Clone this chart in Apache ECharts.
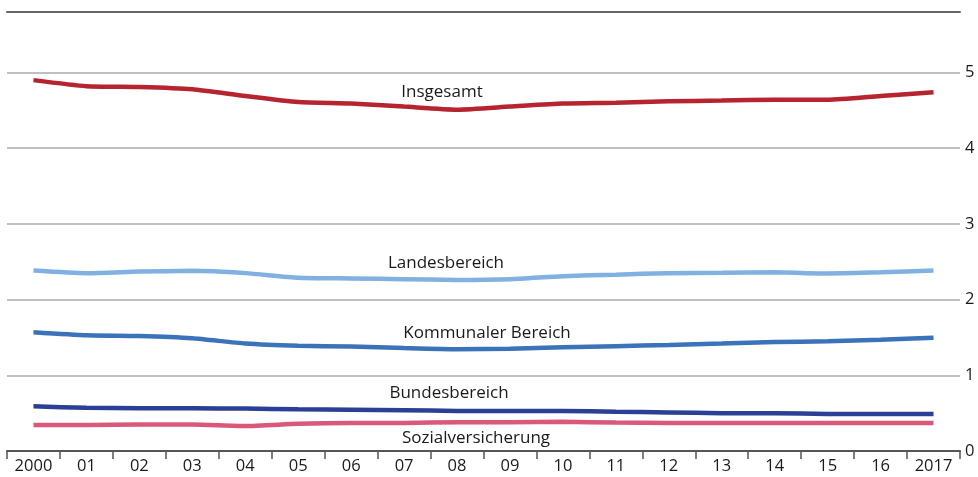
<!DOCTYPE html>
<html>
<head>
<meta charset="utf-8">
<script src="https://cdn.jsdelivr.net/npm/echarts@6/dist/echarts.min.js"></script>
<style>
html,body{margin:0;padding:0;background:#fff;}
#c{width:978px;height:477px;}
</style>
</head>
<body>
<div id="c"></div>
<script>
const categories = ['2000','01','02','03','04','05','06','07','08','09','10','11','12','13','14','15','16','2017'];
const insgesamt = [4.90,4.82,4.81,4.78,4.69,4.61,4.59,4.55,4.51,4.55,4.59,4.60,4.62,4.63,4.64,4.64,4.69,4.74];
const landesbereich = [2.385,2.35,2.37,2.38,2.35,2.29,2.28,2.27,2.26,2.27,2.31,2.33,2.35,2.355,2.36,2.345,2.36,2.385];
const kommunal = [1.57,1.53,1.52,1.49,1.42,1.39,1.38,1.36,1.345,1.35,1.37,1.385,1.40,1.42,1.44,1.45,1.47,1.495];
const bundesbereich = [0.59,0.57,0.565,0.565,0.56,0.55,0.545,0.54,0.53,0.53,0.53,0.52,0.51,0.50,0.50,0.49,0.49,0.49];
const sozialversicherung = [0.345,0.345,0.35,0.35,0.33,0.36,0.37,0.37,0.38,0.38,0.385,0.375,0.37,0.37,0.37,0.37,0.37,0.37];
const yTicks = [0,1,2,3,4,5];

const FONT = '"Open Sans", "Noto Sans", sans-serif';
const chart = echarts.init(document.getElementById('c'), null, {renderer:'canvas'});

function mkSeries(name, data, color){
  return {
    name, type:'line', data, xAxisIndex:0, yAxisIndex:0,
    symbol:'none', smooth:0.2,
    lineStyle:{color, width:4.5},
    emphasis:{disabled:true},
    z:3
  };
}
function lbl(text, x, y){
  return {type:'text', x, y, z:10,
    style:{text, font:'17px '+FONT, fill:'#1a1a1a', textAlign:'center', textVerticalAlign:'middle'}};
}

chart.setOption({
  animation:false,
  grid:{left:7, right:18, top:12, bottom:26, containLabel:false},
  xAxis:[{
    type:'category', data:categories, boundaryGap:true, position:'bottom',
    axisLine:{show:true, lineStyle:{color:'#555', width:2}},
    axisTick:{show:true, inside:false, length:8, lineStyle:{color:'#555', width:1.5}},
    axisLabel:{color:'#1a1a1a', fontSize:16.5, fontFamily:FONT, margin:7, interval:0},
    splitLine:{show:false}
  },{
    type:'category', data:categories, position:'top',
    axisLine:{show:true, lineStyle:{color:'#666', width:2}},
    axisTick:{show:false}, axisLabel:{show:false}, splitLine:{show:false}
  }],
  yAxis:{
    type:'value', position:'right', min:0, max:5.8, interval:1,
    axisLine:{show:false}, axisTick:{show:false},
    axisLabel:{color:'#1a1a1a', fontSize:16.5, fontFamily:FONT, margin:5,
      formatter:v => yTicks.includes(v) ? String(v) : ''},
    splitLine:{show:true, lineStyle:{color:'#aaa', width:1.5}}
  },
  series:[
    mkSeries('Insgesamt', insgesamt, '#b5242f'),
    mkSeries('Landesbereich', landesbereich, '#80b1e0'),
    mkSeries('Kommunaler Bereich', kommunal, '#3b73bb'),
    mkSeries('Bundesbereich', bundesbereich, '#2a3f95'),
    mkSeries('Sozialversicherung', sozialversicherung, '#da5879')
  ],
  graphic:[
    lbl('Insgesamt', 442, 92),
    lbl('Landesbereich', 446, 263),
    lbl('Kommunaler Bereich', 487, 333),
    lbl('Bundesbereich', 449, 393),
    lbl('Sozialversicherung', 476, 438)
  ]
});
</script>
</body>
</html>
